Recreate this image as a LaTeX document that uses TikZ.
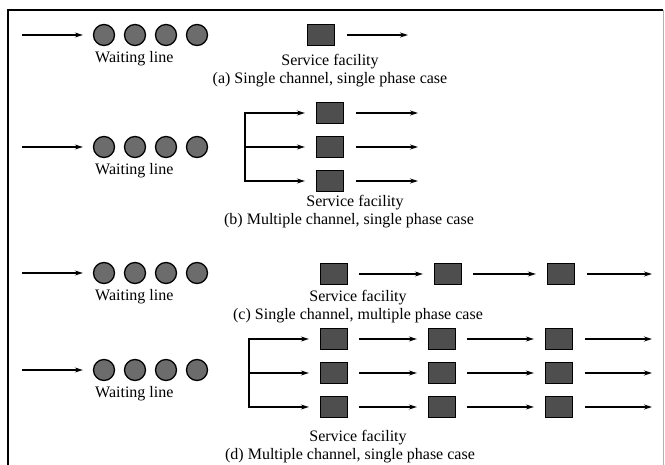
\documentclass[tikz,border=0pt]{standalone}
\usepackage{fontspec}
\setmainfont{Liberation Serif}
\usetikzlibrary{arrows.meta,positioning}
\definecolor{custgrey}{RGB}{108,108,108}
\definecolor{servgrey}{RGB}{78,78,78}

\begin{document}
\begin{tikzpicture}[x=1pt, y=-1pt,
    cust/.style={circle, draw=black, line width=1.3pt, fill=custgrey,
        minimum size=21pt, inner sep=0pt},
    server/.style={rectangle, draw=black, line width=1.3pt, fill=servgrey,
        minimum width=27pt, minimum height=21pt, inner sep=0pt},
    lbl/.style={font=\fontsize{16}{18}\selectfont, inner sep=0pt},
    arr/.style={-{Stealth[length=8pt, width=5pt]}, line width=1.2pt},
    inarr/.style={arr, shorten >=10pt},
    outarr/.style={arr, shorten <=12pt},
    link/.style={arr, shorten <=11pt, shorten >=11pt},
    forkarr/.style={arr, shorten >=11pt}
]
    \useasboundingbox (0,0) rectangle (665,465);

    % Frame
    \draw[line width=1.3pt] (8,465) -- (8,10) -- (663,10);
    \draw[gray!60, line width=0.6pt] (663,10) -- (663,465);

    % Waiting lines, one per case
    \foreach \r/\y in {a/35, b/147, c/273, d/370} {
        \coordinate (in\r) at (22,\y);
        \foreach \i in {1,...,4}
            \node[cust] (\r\i) at ({73+31*\i},\y) {};
        \draw[inarr] (in\r) -- (\r1);
        \node[lbl, anchor=west] (wait\r) at (95,\y+24) {Waiting line};
    }

    % (a) Single channel, single phase
    \node[server] (sa) at (321,35) {};
    \coordinate (outa) at (408,35);
    \draw[outarr] (sa) -- (outa);
    \node[lbl] (faca) at (330,62) {Service facility};
    \node[lbl, below=3pt of faca] (capa) {(a) Single channel, single phase case};

    % (b) Multiple channel, single phase
    \coordinate (forkb) at (245,147);
    \node[server] (sb1) at (330,113) {};
    \node[server] (sb2) at (330,147) {};
    \node[server] (sb3) at (330,181) {};
    \draw[forkarr] (forkb) |- (sb1);
    \draw[forkarr] (forkb) -- (sb2);
    \draw[forkarr] (forkb) |- (sb3);
    \coordinate (outb1) at (418,113);
    \coordinate (outb2) at (418,147);
    \coordinate (outb3) at (418,181);
    \draw[outarr] (sb1) -- (outb1);
    \draw[outarr] (sb2) -- (outb2);
    \draw[outarr] (sb3) -- (outb3);
    \node[lbl] (facb) at (355,203) {Service facility};
    \node[lbl, below=3pt of facb, xshift=-6pt] (capb) {(b) Multiple channel, single phase case};

    % (c) Single channel, multiple phase
    \node[server] (sc1) at (334,274) {};
    \node[server] (sc2) at (448,274) {};
    \node[server] (sc3) at (561,274) {};
    \coordinate (outc) at (652,274);
    \draw[link] (sc1) -- (sc2);
    \draw[link] (sc2) -- (sc3);
    \draw[outarr] (sc3) -- (outc);
    \node[lbl] (facc) at (358,298) {Service facility};
    \node[lbl, below=3pt of facc] (capc) {(c) Single channel, multiple phase case};

    % (d) Multiple channel, multiple phase
    \coordinate (forkd) at (249,373);
    \foreach \j/\y in {1/339, 2/373, 3/407} {
        \node[server] (sd\j1) at (334,\y) {};
        \node[server] (sd\j2) at (442,\y) {};
        \node[server] (sd\j3) at (559,\y) {};
        \coordinate (outd\j) at (652,\y);
        \draw[forkarr] (forkd) |- (sd\j1);
        \draw[link] (sd\j1) -- (sd\j2);
        \draw[link] (sd\j2) -- (sd\j3);
        \draw[outarr] (sd\j3) -- (outd\j);
    }
    \node[lbl] (facd) at (358,438) {Service facility};
    \node[lbl, below=3pt of facd, xshift=-8pt] (capd) {(d) Multiple channel, single phase case};
\end{tikzpicture}
\end{document}
